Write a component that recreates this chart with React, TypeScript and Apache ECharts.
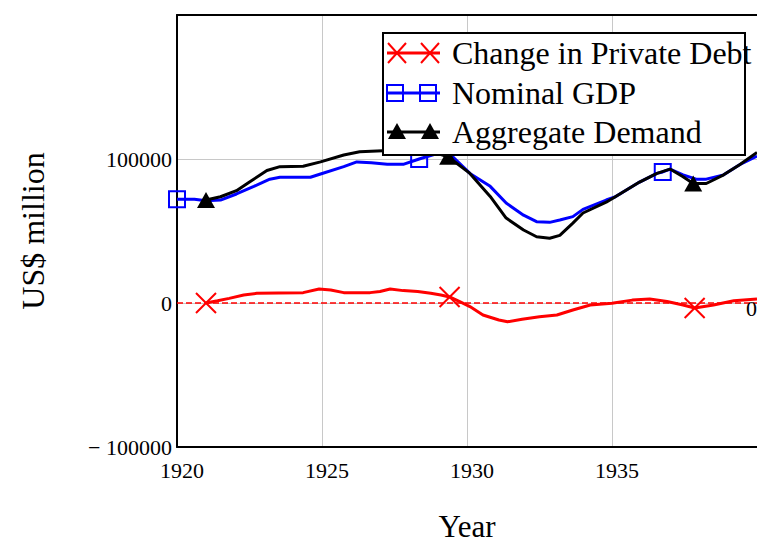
import React, { useEffect, useRef } from "react";
import * as echarts from "echarts";

const FONT = "'Liberation Serif', 'Times New Roman', serif";

// Change in Private Debt (US$ million)
const debtYears = [1921.0, 1921.4, 1921.8, 1922.3, 1922.75, 1923.5, 1924.35, 1924.9, 1925.3, 1925.75, 1926.66, 1927.0, 1927.35, 1927.8, 1928.3, 1928.75, 1929.1, 1929.4, 1929.75, 1930.1, 1930.55, 1931.1, 1931.4, 1931.9, 1932.5, 1933.1, 1933.65, 1934.25, 1935.0, 1935.7, 1936.3, 1936.9, 1937.45, 1937.85, 1938.5, 1939.2, 1940.0];
const debtValues = [0, 1500, 3200, 5500, 6700, 7000, 7200, 9700, 9000, 7200, 7200, 8000, 9700, 8600, 8000, 6700, 5500, 4200, 1000, -2500, -8300, -11800, -13000, -11300, -9500, -8300, -4900, -1400, -200, 2000, 2800, 1000, -1400, -3500, -1400, 1600, 2800];
const debtMarkers = [1921.0, 1929.4, 1937.85];

// Nominal GDP
const gdpYears = [1920.0, 1920.6, 1921.0, 1921.5, 1922.05, 1922.65, 1923.2, 1923.55, 1924.6, 1924.95, 1925.75, 1926.2, 1926.7, 1927.25, 1927.8, 1928.35, 1929.0, 1929.5, 1930.1, 1930.8, 1931.35, 1931.95, 1932.4, 1932.85, 1933.2, 1933.65, 1934.0, 1934.8, 1935.1, 1935.95, 1936.55, 1936.75, 1937.0, 1937.45, 1937.9, 1938.25, 1938.85, 1939.4, 1940.0];
const gdpValues = [72000, 72000, 71000, 71500, 75700, 81000, 86000, 87300, 87300, 89600, 94700, 98000, 97400, 96300, 96300, 100000, 104000, 101700, 90000, 81000, 69400, 61000, 56500, 56000, 57600, 60000, 65000, 71500, 73600, 84000, 90000, 91000, 93000, 89000, 86000, 86000, 89000, 96000, 102000];
const gdpMarkers = [1920.0, 1928.35, 1936.75];

// Aggregate Demand
const adYears = [1921.0, 1921.5, 1922.05, 1922.5, 1923.1, 1923.55, 1924.35, 1924.95, 1925.75, 1926.3, 1927.1, 1928.0, 1928.8, 1929.35, 1930.1, 1930.8, 1931.35, 1931.95, 1932.4, 1932.85, 1933.2, 1933.65, 1934.0, 1934.8, 1935.1, 1935.95, 1936.55, 1937.0, 1937.45, 1937.8, 1938.25, 1938.85, 1939.4, 1940.0];
const adValues = [71500, 73800, 78000, 84000, 92000, 94700, 95000, 98000, 102800, 105000, 105800, 106000, 105000, 101600, 90000, 74000, 59000, 50700, 46000, 45000, 47000, 55500, 62500, 70000, 73600, 84000, 90000, 93000, 87700, 83000, 83000, 89000, 96000, 104500];
const adMarkers = [1921.0, 1929.35, 1937.8];

const seriesNames = ["Change in Private Debt", "Nominal GDP", "Aggregate Demand"];

const crossPath = "path://M0 0L20 20M20 0L0 20";

function pairs(xs: number[], ys: number[]) {
  return xs.map((x, i) => [x, ys[i]]);
}

export default function App() {
  const ref = useRef<HTMLDivElement>(null);
  useEffect(() => {
    if (!ref.current) return;
    const chart = echarts.init(ref.current, null, { renderer: "svg", width: 757, height: 543 });

    const lx = 383, ly = 33;
    const rows = [53, 93, 132];
    const legendGraphic: any[] = [
      {
        type: "rect", z: 100,
        shape: { x: lx, y: ly, width: 362, height: 122 },
        style: { fill: "#fff", stroke: "#000", lineWidth: 2 },
      },
    ];
    const colors = ["#ff0000", "#0000ff", "#000000"];
    rows.forEach((ry, i) => {
      legendGraphic.push({
        type: "line", z: 101,
        shape: { x1: 387, y1: ry, x2: 440, y2: ry },
        style: { stroke: colors[i], lineWidth: 3 },
      });
      const mxs = i === 1 ? [395, 428] : [397, 430];
      mxs.forEach((mx) => {
        if (i === 0) {
          legendGraphic.push({ type: "line", z: 102, shape: { x1: mx - 9, y1: ry - 10, x2: mx + 9, y2: ry + 10 }, style: { stroke: colors[0], lineWidth: 2 } });
          legendGraphic.push({ type: "line", z: 102, shape: { x1: mx - 9, y1: ry + 10, x2: mx + 9, y2: ry - 10 }, style: { stroke: colors[0], lineWidth: 2 } });
        } else if (i === 1) {
          legendGraphic.push({ type: "rect", z: 102, shape: { x: mx - 8, y: ry - 8, width: 16, height: 16 }, style: { fill: "none", stroke: colors[1], lineWidth: 2 } });
        } else {
          legendGraphic.push({ type: "polygon", z: 102, shape: { points: [[mx, ry - 9], [mx + 9, ry + 7], [mx - 9, ry + 7]] }, style: { fill: "#000" } });
        }
      });
      legendGraphic.push({
        type: "text", z: 102, x: 452, y: ry,
        style: { text: seriesNames[i], font: `32px ${FONT}`, fill: "#000", verticalAlign: "middle", align: "left" },
      });
    });

    chart.setOption({
      animation: false,
      backgroundColor: "#fff",
      textStyle: { fontFamily: FONT },
      grid: { left: 177, right: 0, top: 15, bottom: 96, containLabel: false, outerBoundsMode: "none" },
      xAxis: [
        {
          type: "value", min: 1920, max: 1940, interval: 5,
          name: "Year", nameLocation: "middle", nameGap: 64,
          nameTextStyle: { fontFamily: FONT, fontSize: 31, lineHeight: 31, color: "#000" },
          axisLine: { show: true, onZero: false, lineStyle: { color: "#000", width: 2 } },
          axisTick: { show: false },
          axisLabel: {
            fontFamily: FONT, fontSize: 22, color: "#000", margin: 12, showMaxLabel: false,
            padding: [0, 0, 0, 10],
            formatter: (v: number) => String(v),
          },
          splitLine: { show: true, lineStyle: { color: "#c8c8c8", width: 1 } },
        },
        {
          type: "value", min: 1920, max: 1940, position: "top",
          axisLine: { show: true, onZero: false, lineStyle: { color: "#000", width: 2 } },
          axisTick: { show: false }, axisLabel: { show: false }, splitLine: { show: false },
        },
      ],
      yAxis: {
        type: "value", min: -100000, max: 200000, interval: 100000,
        name: "US$ million", nameLocation: "middle", nameGap: 128,
        nameTextStyle: { fontFamily: FONT, fontSize: 32, color: "#000" },
        axisLine: { show: true, onZero: false, lineStyle: { color: "#000", width: 2 } },
        axisTick: { show: false },
        axisLabel: {
          fontFamily: FONT, fontSize: 22, color: "#000", margin: 5, showMaxLabel: false,
          padding: [8, 0, 0, 0],
          formatter: (v: number) => (v < 0 ? "\u2212 " + Math.abs(v) : String(v)),
        },
        splitLine: { show: true, lineStyle: { color: "#c8c8c8", width: 1 } },
      },
      graphic: legendGraphic,
      series: [
        {
          name: seriesNames[0], type: "line", data: pairs(debtYears, debtValues),
          symbol: (v: number[]) => (debtMarkers.includes(v[0]) ? crossPath : "none"),
          symbolSize: 20, showSymbol: true, showAllSymbol: true,
          lineStyle: { color: "#ff0000", width: 3 },
          itemStyle: { color: "#ff0000", borderColor: "#ff0000", borderWidth: 2 },
          z: 3,
          markLine: {
            silent: true, symbol: "none",
            lineStyle: { color: "#ff0000", type: "dashed", width: 1.5 },
            label: { show: true, position: "insideEndBottom", distance: [0, -6], formatter: "0", fontFamily: FONT, fontSize: 22, color: "#000" },
            data: [{ yAxis: 0 }],
          },
        },
        {
          name: seriesNames[1], type: "line", data: pairs(gdpYears, gdpValues),
          symbol: (v: number[]) => (gdpMarkers.includes(v[0]) ? "rect" : "none"),
          symbolSize: 16, showSymbol: true, showAllSymbol: true,
          lineStyle: { color: "#0000ff", width: 3 },
          itemStyle: { color: "rgba(0,0,0,0)", borderColor: "#0000ff", borderWidth: 2 },
          z: 4,
        },
        {
          name: seriesNames[2], type: "line", data: pairs(adYears, adValues),
          symbol: (v: number[]) => (adMarkers.includes(v[0]) ? "triangle" : "none"),
          symbolSize: [18, 16], showSymbol: true, showAllSymbol: true,
          lineStyle: { color: "#000000", width: 3 },
          itemStyle: { color: "#000000" },
          z: 5,
        },
      ],
    });
    return () => chart.dispose();
  }, []);
  return (
    <div
      ref={ref}
      style={{ position: "fixed", left: 0, top: 0, width: 757, height: 543 }}
    />
  );
}
